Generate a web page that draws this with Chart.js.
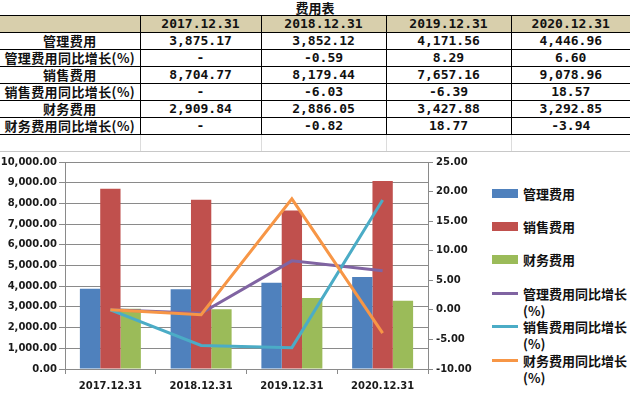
<!DOCTYPE html>
<html>
<head>
<meta charset="utf-8">
<script src="https://cdn.jsdelivr.net/npm/chart.js@4"></script>
<style>
  body { margin: 0; width: 630px; height: 397px; background: #fff; position: relative; overflow: hidden; }
  #titulo { position: absolute; top: 0; left: 0; width: 630px; text-align: center; font: bold 13px "Noto Sans CJK SC"; line-height: 16px; color: #111; }
  #tabla { position: absolute; top: 15px; left: 0; border-collapse: collapse; table-layout: fixed; }
  #tabla td { height: 16px; padding: 0; text-align: center; border-top: 1px solid #000; border-bottom: 1px solid #000; border-left: 1px solid #000;
              font: bold 13px "DejaVu Sans Mono"; line-height: 16px; color: #111; white-space: nowrap; }
  #tabla td:first-child { border-left: none; font-family: "Noto Sans CJK SC"; letter-spacing: 0.4px; }
  #tabla tr.cab td { background: #d8cfac; }
  #tabla tr.vacia td { border-bottom: 1px solid #c8c8c8; border-top: 1px solid #000; border-left: 1px solid #dcdcdc; }
  #tabla tr.vacia td:first-child { border-left: none; }
  #contenedor { position: absolute; top: 151px; left: 0; width: 490px; height: 246px; }
  #leyenda { position: absolute; left: 492px; top: 0; }
  .item { position: absolute; left: 0; width: 140px; font: bold 13px "Noto Sans CJK SC"; line-height: 17px; color: #111; }
  .item span.txt { position: absolute; left: 31px; top: 0; width: 106px; }
  .item span.marca { position: absolute; left: 0; width: 26px; }
</style>
</head>
<body>
<div id="titulo">费用表</div>
<table id="tabla"></table>
<div id="contenedor"><canvas id="grafico"></canvas></div>
<div id="leyenda"></div>

<script>
// datos del gráfico
const categorias = ["2017.12.31", "2018.12.31", "2019.12.31", "2020.12.31"]
const gastoAdmin = [3875.17, 3852.12, 4171.56, 4446.96]
const gastoVentas = [8704.77, 8179.44, 7657.16, 9078.96]
const gastoFinanciero = [2909.84, 2886.05, 3427.88, 3292.85]
const crecAdmin = [null, -0.59, 8.29, 6.60]
const crecVentas = [null, -6.03, -6.39, 18.57]
const crecFinanciero = [null, -0.82, 18.77, -3.94]

const nombresBarras = ["管理费用", "销售费用", "财务费用"]
const nombresLineas = ["管理费用同比增长(%)", "销售费用同比增长(%)", "财务费用同比增长(%)"]
const ticksIzq = { min: 0, max: 10000, paso: 1000 }
const ticksDer = { min: -10, max: 25, paso: 5 }

const coloresBarras = ["#4f81bd", "#c0504d", "#9bbb59"]
const coloresLineas = ["#8064a2", "#4bacc6", "#f79646"]

///TABLA
const fmtMonto = (v) => v.toLocaleString("en-US", { minimumFractionDigits: 2, maximumFractionDigits: 2 })
const fmtCrec = (v) => v === null ? "-" : v.toFixed(2)

function renderTabla() {
    const tabla = document.getElementById("tabla")
    const anchos = [140, 121, 125, 125, 119]
    let template = "<colgroup>" + anchos.map((a) => `<col style="width:${a}px">`).join("") + "</colgroup>"
    template += `<tr class="cab"><td></td>${categorias.map((c) => `<td>${c}</td>`).join("")}</tr>`
    const filas = [
        [nombresBarras[0], gastoAdmin, fmtMonto],
        [nombresLineas[0], crecAdmin, fmtCrec],
        [nombresBarras[1], gastoVentas, fmtMonto],
        [nombresLineas[1], crecVentas, fmtCrec],
        [nombresBarras[2], gastoFinanciero, fmtMonto],
        [nombresLineas[2], crecFinanciero, fmtCrec],
    ]
    for (let [nombre, valores, fmt] of filas) {
        template += `<tr><td>${nombre}</td>${valores.map((v) => `<td>${fmt(v)}</td>`).join("")}</tr>`
    }
    template += `<tr class="vacia"><td></td><td></td><td></td><td></td><td></td></tr>`
    tabla.innerHTML = template
}

///LEYENDA
function renderLeyenda() {
    const leyenda = document.getElementById("leyenda")
    let template = ""
    const nombres = nombresBarras.concat(nombresLineas)
    const colores = coloresBarras.concat(coloresLineas)
    nombres.forEach((nombre, i) => {
        const centro = 193 + i * 33.4
        const esBarra = i < 3
        const marca = esBarra
            ? `<span class="marca" style="top:4px;height:9px;background:${colores[i]}"></span>`
            : `<span class="marca" style="top:7px;height:3px;background:${colores[i]}"></span>`
        template += `<div class="item" style="top:${centro - 8.5}px">${marca}<span class="txt">${nombre}</span></div>`
    })
    leyenda.innerHTML = template
}

///GRÁFICO
const fuenteEje = { family: "DejaVu Sans", weight: "bold", size: 10 }
const colorGrilla = "#8a8a8a"

function renderGrafico() {
    const datasets = []
    const lineas = [crecAdmin, crecVentas, crecFinanciero]
    lineas.forEach((serie, i) => {
        datasets.push({
            type: "line",
            label: nombresLineas[i],
            data: serie.map((v) => v === null ? 0 : v),
            borderColor: coloresLineas[i],
            backgroundColor: coloresLineas[i],
            borderWidth: 3,
            pointRadius: 0,
            tension: 0,
            yAxisID: "yDer",
            order: 2 - i,
        })
    })
    const barras = [gastoAdmin, gastoVentas, gastoFinanciero]
    barras.forEach((serie, i) => {
        datasets.push({
            type: "bar",
            label: nombresBarras[i],
            data: serie,
            backgroundColor: coloresBarras[i],
            borderWidth: 0,
            categoryPercentage: 0.672,
            barPercentage: 1,
            yAxisID: "yIzq",
            order: 10,
        })
    })

    const config = {
        data: { labels: categorias, datasets: datasets },
        options: {
            responsive: false,
            animation: false,
            layout: { padding: { top: 11, left: 0, right: 0, bottom: 0 } },
            plugins: { legend: { display: false }, tooltip: { enabled: false } },
            scales: {
                x: {
                    grid: { drawOnChartArea: false, drawTicks: true, tickLength: 5, color: colorGrilla, offset: true },
                    border: { color: colorGrilla },
                    ticks: { font: fuenteEje, color: "#1a1a1a", padding: 6, maxRotation: 0 },
                    afterFit: (s) => { s.height = 28 },
                },
                yIzq: {
                    position: "left",
                    min: ticksIzq.min, max: ticksIzq.max,
                    grid: { color: colorGrilla, tickLength: 6 },
                    border: { color: colorGrilla },
                    ticks: {
                        stepSize: ticksIzq.paso, font: fuenteEje, color: "#1a1a1a", padding: 2,
                        callback: (v) => fmtMonto(v),
                    },
                    afterFit: (s) => { s.width = 65 },
                },
                yDer: {
                    position: "right",
                    min: ticksDer.min, max: ticksDer.max,
                    grid: { drawOnChartArea: false, color: colorGrilla, tickLength: 5 },
                    border: { color: colorGrilla },
                    ticks: {
                        stepSize: ticksDer.paso, font: fuenteEje, color: "#1a1a1a", padding: 3,
                        callback: (v) => v.toFixed(2),
                    },
                    afterFit: (s) => { s.width = 62 },
                },
            },
        },
    }

    const canvas = document.getElementById("grafico")
    canvas.width = 490
    canvas.height = 246
    new Chart(canvas, config)
}

renderTabla()
renderLeyenda()
renderGrafico()
</script>
</body>
</html>
